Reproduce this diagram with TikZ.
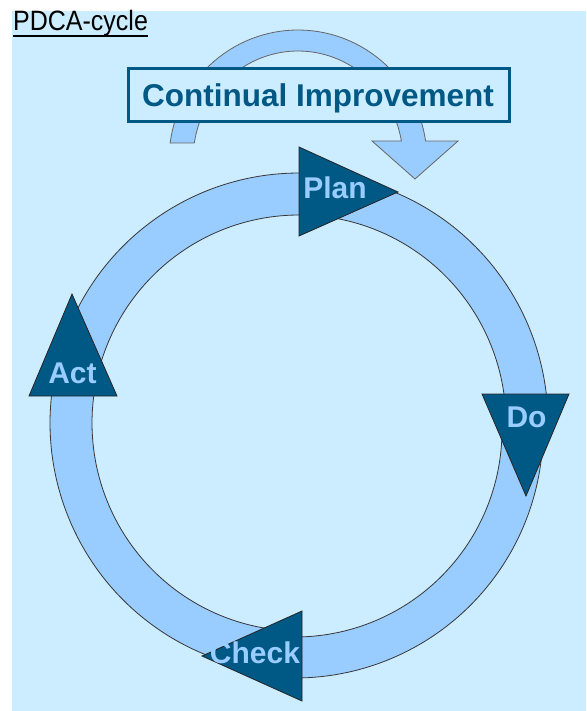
\documentclass[tikz,border=0pt]{standalone}
\usepackage{fontspec}
\setmainfont{Liberation Sans}
\definecolor{bgblue}{RGB}{204,236,255}
\definecolor{ringblue}{RGB}{153,204,255}
\definecolor{darkblue}{RGB}{0,88,132}
\definecolor{edgegray}{RGB}{55,55,55}
\begin{document}
\begin{tikzpicture}[x=1pt,y=-1pt,
  ringseg/.style={fill=ringblue,draw=edgegray,line width=0.8pt},
  headtri/.style={fill=darkblue,draw=black!85,line width=0.8pt,line join=miter},
  steplabel/.style={font=\bfseries\fontsize{30}{36}\selectfont,text=ringblue,inner sep=0pt,anchor=base},
  cibox/.style={draw=darkblue,line width=3pt,fill=bgblue,minimum width=381pt,minimum height=53pt,inner sep=0pt},
  citext/.style={font=\bfseries\fontsize{31.5}{38}\selectfont,text=darkblue,inner sep=0pt,anchor=base}
]
\useasboundingbox (0,0) rectangle (586,711);
\fill[white] (0,0) rectangle (586,711);
\fill[bgblue] (12,11) rectangle (586,711);

% title
\node[inner sep=0pt,anchor=base west,font=\fontsize{25}{30}\selectfont] (title) at (13,31) {\scalebox{1}[1.12]{PDCA-cycle}};
\draw[line width=1.5pt] ([yshift=-5pt]title.base west) -- ([yshift=-5pt]title.base east);

% continual improvement arrow
\draw[ringseg,draw=gray!80!black]
  plot[domain=187.51:351.6,samples=60] ({298+129*cos(\x)},{160+130*sin(\x)})
  -- (458,141) -- (415,179) -- (372,141)
  -- plot[domain=349.96:189.0,samples=60] ({298+105*cos(\x)},{160+109*sin(\x)}) -- cycle;
\node[cibox] (box) at (318.5,95.5) {};
\node[citext] (ci) at (318,107) {Continual Improvement};

% ring segments
% Check -> Act
\draw[ringseg] plot[domain=90:190,samples=60] ({299+249*cos(\x)},{423+250*sin(\x)})
  -- plot[domain=190:90,samples=60] ({299+207*cos(\x)},{423+208*sin(\x)}) -- cycle;
% Act -> Plan
\draw[ringseg] plot[domain=190:275,samples=60] ({299+249*cos(\x)},{423+250*sin(\x)})
  -- plot[domain=275:190,samples=60] ({299+207*cos(\x)},{423+208*sin(\x)}) -- cycle;
% Plan -> Do
\draw[ringseg] plot[domain=275:360,samples=60] ({299+249*cos(\x)},{423+250*sin(\x)})
  -- plot[domain=360:275,samples=60] ({299+207*cos(\x)},{423+208*sin(\x)}) -- cycle;
% Do -> Check
\draw[ringseg] plot[domain=0:90,samples=60] ({295+248*cos(\x)},{430+248*sin(\x)})
  -- plot[domain=90:0,samples=60] ({295+207*cos(\x)},{430+207*sin(\x)}) -- cycle;

% arrow heads
\draw[headtri] (299,147) -- (398,192) -- (299,236) -- cycle;
\draw[headtri] (482,394) -- (569,394) -- (526,496) -- cycle;
\draw[headtri] (302,611) -- (302,701) -- (202,656) -- cycle;
\draw[headtri] (72,294) -- (117,396) -- (29,396) -- cycle;

% labels
\node[steplabel] (plan) at (335,199) {Plan};
\node[steplabel] (do) at (526.5,427) {Do};
\node[steplabel] (act) at (72.5,383) {Act};
\node[steplabel] (check) at (255,663) {Check};
\end{tikzpicture}
\end{document}
